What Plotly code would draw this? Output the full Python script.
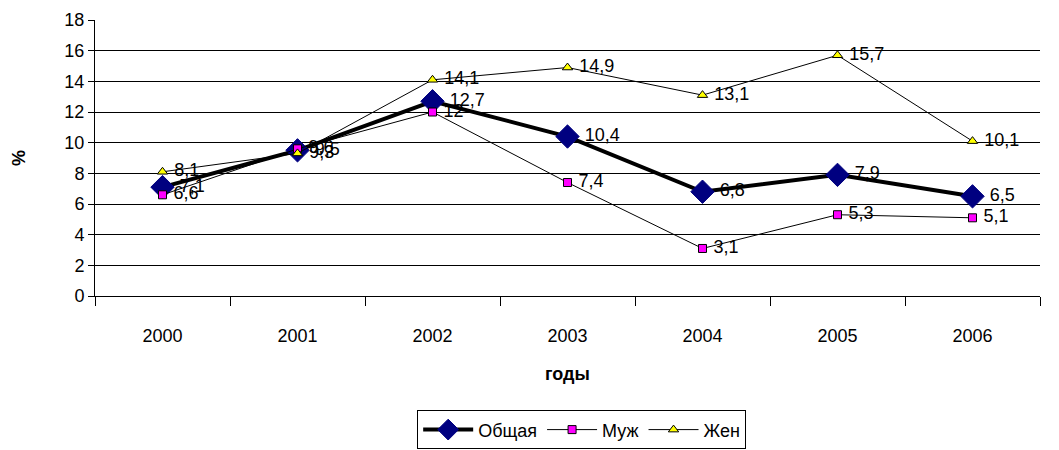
import plotly.graph_objects as go

years = ["2000", "2001", "2002", "2003", "2004", "2005", "2006"]
total = [7.1, 9.5, 12.7, 10.4, 6.8, 7.9, 6.5]
male = [6.6, 9.6, 12.0, 7.4, 3.1, 5.3, 5.1]
female = [8.1, 9.3, 14.1, 14.9, 13.1, 15.7, 10.1]


def fmt(vals):
    return [" " + ("%g" % v).replace(".", ",") for v in vals]


font = dict(family="Arial, Liberation Sans, sans-serif", size=18, color="black")

fig = go.Figure()
fig.add_trace(go.Scatter(
    x=years, y=total, name="Общая", mode="lines+markers+text",
    line=dict(color="black", width=4),
    marker=dict(symbol="diamond", size=18, color="#000080",
                line=dict(color="#000080", width=1)),
    text=fmt(total), textposition="middle right", textfont=font,
))
fig.add_trace(go.Scatter(
    x=years, y=male, name="Муж", mode="lines+markers+text",
    line=dict(color="black", width=1),
    marker=dict(symbol="square", size=8, color="#FF00FF",
                line=dict(color="black", width=1)),
    text=fmt(male), textposition="middle right", textfont=font,
))
fig.add_trace(go.Scatter(
    x=years, y=female, name="Жен", mode="lines+markers+text",
    line=dict(color="black", width=1),
    marker=dict(symbol="triangle-up", size=9, color="#FFFF00",
                line=dict(color="black", width=1)),
    text=fmt(female), textposition="middle right", textfont=font,
))

fig.update_layout(
    width=1059, height=450,
    margin=dict(l=95, r=19, t=20, b=154, autoexpand=False),
    paper_bgcolor="white", plot_bgcolor="white",
    font=font,
    showlegend=True,
    legend=dict(
        orientation="h", x=0.515, xanchor="center",
        yref="container", y=0.088, yanchor="top",
        bordercolor="black", borderwidth=1, font=font,
        itemwidth=50, tracegroupgap=0,
    ),
    xaxis=dict(
        type="category", tickson="boundaries", ticks="outside", ticklen=9,
        tickcolor="black", showline=True, linecolor="black", linewidth=1,
        showgrid=False, ticklabelstandoff=23, tickfont=font, automargin=False,
        title=dict(text="<b>годы</b>", font=font, standoff=22),
        range=[-0.5, 6.5],
    ),
    yaxis=dict(
        range=[0, 18], dtick=2, ticks="outside", ticklen=6, tickcolor="black",
        showline=True, linecolor="black", linewidth=1,
        showgrid=True, gridcolor="black", gridwidth=1, zeroline=False,
        tickfont=font, automargin=False,
        title=dict(text="<b>%</b>", font=font, standoff=34),
    ),
)

fig.write_html("out.html")
